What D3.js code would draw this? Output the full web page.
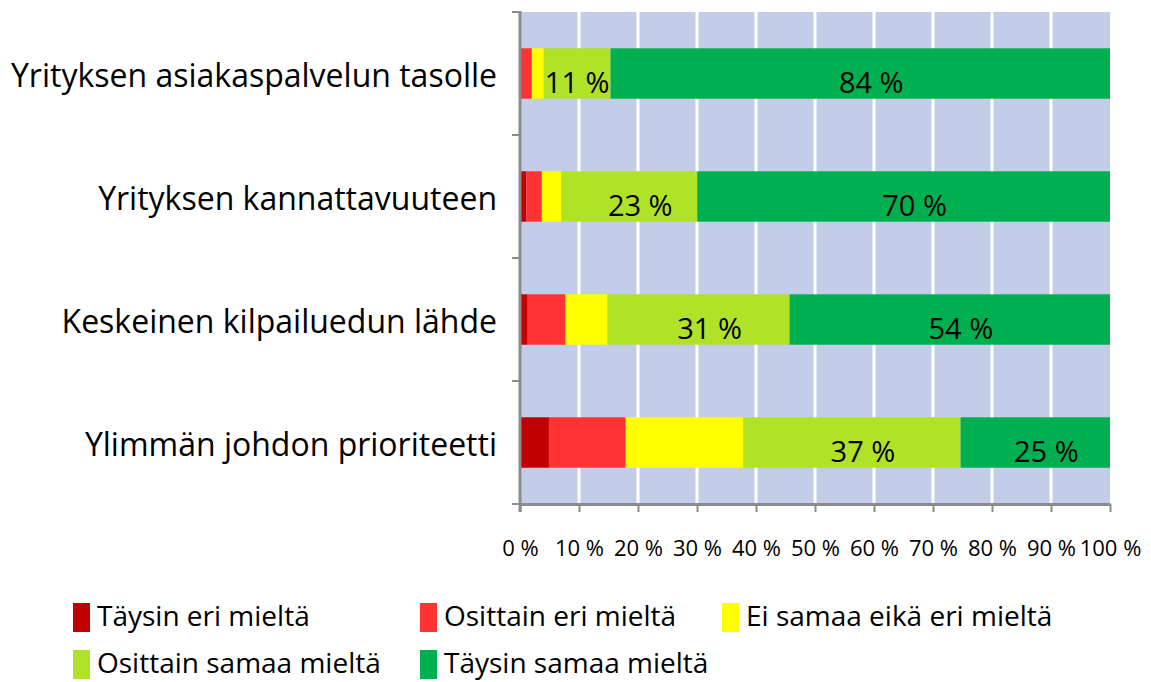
<!DOCTYPE html>
<html>
<head>
  <meta charset="utf-8">
  <script src="https://d3js.org/d3.v7.min.js"></script>
  <style>
  body { margin: 0; background: #fff; }
  text { font-family: "Open Sans", "Noto Sans", sans-serif; fill: #000; }
  </style>
</head>
<body>
<div id="chart"></div>
<script>
// categories top to bottom
var categories = ["Yrityksen asiakaspalvelun tasolle", "Yrityksen kannattavuuteen",
                  "Keskeinen kilpailuedun lähde", "Ylimmän johdon prioriteetti"];
var seriesNames = ["Täysin eri mieltä", "Osittain eri mieltä", "Ei samaa eikä eri mieltä",
                   "Osittain samaa mieltä", "Täysin samaa mieltä"];
var seriesColors = ["#C00000", "#FF3333", "#FFFF00", "#B0E228", "#00B050"];
// values per series, in category order (percent)
var taysinEri    = [0.3, 1.1, 1.3, 4.9];
var osittainEri  = [1.7, 2.6, 6.4, 13.0];
var eiSamaaEika  = [2.0, 3.3, 7.1, 19.9];
var osittainSama = [11.3, 23.0, 30.8, 36.8];
var taysinSama   = [84.4, 69.9, 54.2, 25.3];
var tickValues = [0, 0.1, 0.2, 0.3, 0.4, 0.5, 0.6, 0.7, 0.8, 0.9, 1];
var labelledSeries = [3, 4]; // only these get data labels

var W = 1151, H = 682;
var margin = {left: 520, right: 41, top: 12, bottom: 178};
var innerW = W - margin.left - margin.right;
var innerH = H - margin.top - margin.bottom;

var rows = categories.map(function(c, i) {
  return {cat: c, s0: taysinEri[i], s1: osittainEri[i], s2: eiSamaaEika[i], s3: osittainSama[i], s4: taysinSama[i]};
});
var keys = ["s0", "s1", "s2", "s3", "s4"];
var stacked = d3.stack().keys(keys).offset(d3.stackOffsetExpand)(rows);

var svg = d3.select("#chart").append("svg")
  .attr("width", W).attr("height", H);

var x = d3.scaleLinear().domain([0, 1]).range([margin.left, margin.left + innerW]);
var y = d3.scaleBand().domain(categories)
  .range([margin.top, margin.top + innerH])
  .paddingInner(0.59).paddingOuter(0.295);

// plot background + vertical gridlines
svg.append("rect")
  .attr("x", x(0)).attr("y", margin.top)
  .attr("width", innerW).attr("height", innerH)
  .attr("fill", "#C4CDE8");
svg.append("g").selectAll("line").data(tickValues.slice(1, -1)).join("line")
  .attr("x1", d => x(d)).attr("x2", d => x(d))
  .attr("y1", margin.top).attr("y2", margin.top + innerH)
  .attr("stroke", "#fff").attr("stroke-width", 3);

// bars
var layers = svg.append("g").selectAll("g").data(stacked).join("g")
  .attr("fill", (d, i) => seriesColors[i]);
layers.selectAll("rect").data(d => d).join("rect")
  .attr("x", d => x(d[0]))
  .attr("y", d => y(d.data.cat))
  .attr("width", d => x(d[1]) - x(d[0]))
  .attr("height", y.bandwidth());

// data labels
var raw = [taysinEri, osittainEri, eiSamaaEika, osittainSama, taysinSama];
labelledSeries.forEach(function(si) {
  stacked[si].forEach(function(d, ci) {
    var x0 = x(d[0]), x1 = x(d[1]);
    var t = svg.append("text")
      .attr("y", y(d.data.cat) + y.bandwidth() / 2 + 8)
      .attr("dominant-baseline", "central")
      .attr("text-anchor", "middle")
      .style("font-size", "29px")
      .text(Math.round(raw[si][ci]) + " %");
    var tw = t.node().getComputedTextLength();
    var cx = Math.min((x0 + x1) / 2 + 11, x1 - tw / 2 - 1);
    t.attr("x", cx);
  });
});

// axes
var axisColor = "#8C8C8C";
var xAxis = svg.append("g")
  .attr("transform", "translate(0," + (margin.top + innerH) + ")")
  .call(d3.axisBottom(x).tickValues(tickValues).tickSize(8).tickSizeOuter(0)
    .tickFormat(d => Math.round(d * 100) + " %"));
xAxis.select(".domain").attr("stroke", axisColor).attr("stroke-width", 3);
xAxis.selectAll(".tick line").attr("stroke", axisColor).attr("stroke-width", 2);
xAxis.selectAll(".tick text").attr("y", 36).style("font-size", "22px")
  .style("font-family", "'Open Sans', sans-serif");

// left axis with ticks at category boundaries
var boundaries = d3.range(categories.length + 1).map(i => margin.top + i * innerH / categories.length);
svg.append("line")
  .attr("x1", x(0)).attr("x2", x(0))
  .attr("y1", margin.top - 1).attr("y2", margin.top + innerH + 8)
  .attr("stroke", axisColor).attr("stroke-width", 3);
svg.append("g").selectAll("line").data(boundaries).join("line")
  .attr("x1", x(0) - 8).attr("x2", x(0))
  .attr("y1", d => d).attr("y2", d => d)
  .attr("stroke", axisColor).attr("stroke-width", 2);

// category labels
svg.append("g").selectAll("text").data(categories).join("text")
  .attr("x", 497)
  .attr("y", d => y(d) + y.bandwidth() / 2 + 13)
  .attr("text-anchor", "end")
  .style("font-size", "32px")
  .text(d => d);

// legend
var legendPos = [[73, 603], [420, 603], [722, 603], [73, 650], [420, 650]];
var lg = svg.append("g").selectAll("g").data(seriesNames).join("g")
  .attr("transform", (d, i) => "translate(" + legendPos[i][0] + "," + legendPos[i][1] + ")");
lg.append("rect").attr("width", 17).attr("height", 29)
  .attr("fill", (d, i) => seriesColors[i]);
lg.append("text").attr("x", 24).attr("y", 23)
  .style("font-size", "28px")
  .text(d => d);
</script>
</body>
</html>
